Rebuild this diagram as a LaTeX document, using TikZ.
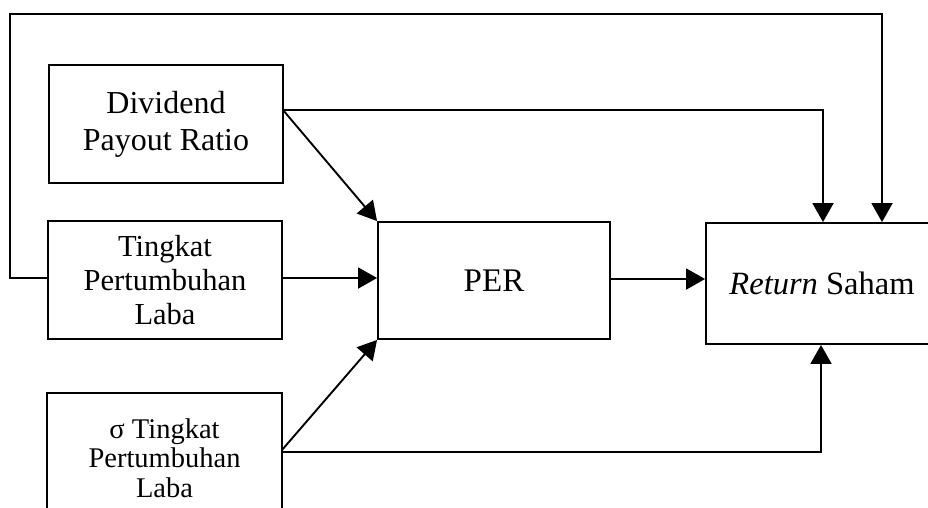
\documentclass[tikz,border=0pt]{standalone}
\usepackage{fontspec}
\setmainfont{Liberation Serif}
\usetikzlibrary{arrows.meta}
\begin{document}
\begin{tikzpicture}[x=1pt,y=-1pt,
  box/.style={draw, line width=1.9pt, rectangle, inner sep=0pt, minimum width=234pt, minimum height=118pt, align=center},
  conn/.style={line width=1.9pt},
  arr/.style={conn, -{Triangle[length=19pt,width=21pt]}}]
\useasboundingbox (0,0) rectangle (928,507);
\clip (0,0) rectangle (928,507);
\node[box, font=\fontsize{32}{37}\selectfont] (div) at (166,124) {Dividend\\Payout Ratio};
\node[box, font=\fontsize{30.5}{34}\selectfont] (tpl) at (165,280) {Tingkat\\Pertumbuhan\\Laba};
\node[box, minimum width=235pt, minimum height=130pt, font=\fontsize{28.5}{29.5}\selectfont] (sig) at (164.5,458) {σ Tingkat\\Pertumbuhan\\Laba};
\node[box, minimum width=232pt, minimum height=117pt, font=\fontsize{33}{36}\selectfont] (per) at (494,280.5) {PER};
\node[box, minimum width=232pt, minimum height=121pt, font=\fontsize{32.5}{36}\selectfont] (ret) at (822,283.5) {\textit{Return} Saham};
\coordinate (loopL) at (10,278);
\coordinate (loopT) at (10,14);
\coordinate (loopR) at (882,14);
\coordinate (divO) at (283,110);
\coordinate (divR) at (823,110);
\coordinate (sigO) at (282,450);
\coordinate (sigR) at (821,452);
\coordinate (perO) at (610,279);
% loop from Tingkat to Return
\draw[arr] (tpl.west |- loopL) -- (loopL) -- (loopT) -- (loopR) -- (loopR |- ret.north);
% dividend to return
\draw[arr] (divO) -- (divR) -- (divR |- ret.north);
% dividend to PER
\draw[arr] (divO) -- (per.north west);
% tingkat to PER
\draw[arr] (tpl.east |- loopL) -- (per.west |- loopL);
% sigma to PER
\draw[arr] (sigO) -- (per.south west);
% sigma to return
\draw[arr] (sig.east |- sigR) -- (sigR) -- (sigR |- ret.south);
% PER to return
\draw[arr] (per.east |- perO) -- (ret.west |- perO);
\end{tikzpicture}
\end{document}
